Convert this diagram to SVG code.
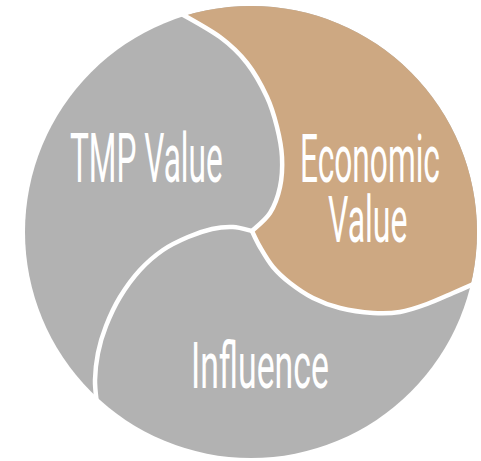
<svg xmlns="http://www.w3.org/2000/svg" width="481" height="461" viewBox="0 0 481 461">
<style>
.seg-gray{fill:#b2b2b2}
.seg-tan{fill:#cda882}
.lbl{font-family:Roboto,"Liberation Sans",sans-serif;font-weight:400;fill:#ffffff}
.div{fill:none;stroke:#ffffff;stroke-width:4.5;stroke-linecap:round}
</style>
<defs>
<clipPath id="disc"><circle cx="251" cy="232" r="226"/></clipPath>
</defs>
<rect width="481" height="461" fill="#ffffff"/>
<g id="influence">
<circle class="seg-gray" cx="251" cy="232" r="226"/>
<text class="lbl" font-size="65" transform="translate(191,388) scale(0.52,1)">Influence</text>
</g>
<g id="tmp-value">
<text class="lbl" font-size="68" transform="translate(70,182) scale(0.465,1)">TMP Value</text>
</g>
<g id="economic-value">
<path class="seg-tan" clip-path="url(#disc)" d="M252,231 C253.3,233.7 256.5,241 260,247 C263.5,253 268,261 273,267 C278,273 283.3,277.8 290,283 C296.7,288.2 304.7,293.8 313,298 C321.3,302.2 330,305.5 340,308 C350,310.5 363,312.3 373,313 C383,313.7 391,313.5 400,312 C409,310.5 418.2,307.2 427,304 C435.8,300.8 444.5,296.7 453,293 C461.5,289.3 473.8,283.8 478,282 L520,282 L520,-20 L160,-20 L180,13 C186.7,17 208.8,28.7 220,37 C231.2,45.3 239.2,53 247,63 C254.8,73 262,86.3 267,97 C272,107.7 274.5,117 277,127 C279.5,137 281.5,147 282,157 C282.5,167 282,177.7 280,187 C278,196.3 274.7,205.7 270,213 C265.3,220.3 255,228 252,231 Z"/>
<text class="lbl" font-size="66" transform="translate(300,182) scale(0.48,1)">Economic</text>
<text class="lbl" font-size="64" transform="translate(328,242) scale(0.5,1)">Value</text>
</g>
<g id="connectors">
<path class="div" d="M252,231 C255,228 265.3,220.3 270,213 C274.7,205.7 278,196.3 280,187 C282,177.7 282.5,167 282,157 C281.5,147 279.5,137 277,127 C274.5,117 272,107.7 267,97 C262,86.3 254.8,73 247,63 C239.2,53 231.2,45.3 220,37 C208.8,28.7 186.7,17 180,13"/>
<path class="div" d="M252,231 C253.3,233.7 256.5,241 260,247 C263.5,253 268,261 273,267 C278,273 283.3,277.8 290,283 C296.7,288.2 304.7,293.8 313,298 C321.3,302.2 330,305.5 340,308 C350,310.5 363,312.3 373,313 C383,313.7 391,313.5 400,312 C409,310.5 418.2,307.2 427,304 C435.8,300.8 444.5,296.7 453,293 C461.5,289.3 473.8,283.8 478,282"/>
<path class="div" d="M252,231 C248.8,230.3 239.7,227.3 233,227 C226.3,226.7 219.5,227.3 212,229 C204.5,230.7 196.2,233.5 188,237 C179.8,240.5 171,244.5 163,250 C155,255.5 147.2,262.2 140,270 C132.8,277.8 125.7,287.7 120,297 C114.3,306.3 109.7,316.7 106,326 C102.3,335.3 99.8,344 98,353 C96.2,362 95.2,371.3 95,380 C94.8,388.7 96.7,400.8 97,405"/>
</g>
</svg>
